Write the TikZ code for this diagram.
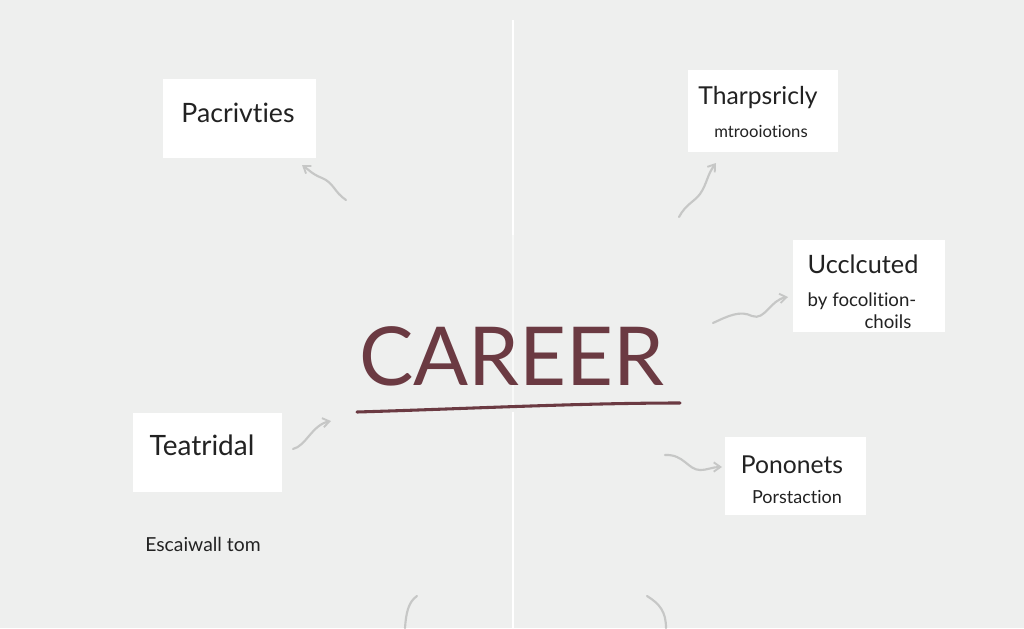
\documentclass[tikz,border=0pt]{standalone}
\usepackage{fontspec}
\setmainfont{Lato}[Ligatures=NoCommon]
\usetikzlibrary{arrows.meta}
\definecolor{bg}{HTML}{EEEFEE}
\definecolor{ink}{HTML}{222222}
\definecolor{maroon}{HTML}{6B3A42}
\definecolor{arrowgray}{HTML}{C6C7C6}
\tikzset{
  card/.style={fill=white, draw=none, inner sep=0pt},
  label/.style={text=ink, inner sep=0pt, anchor=center},
  wavy/.style={draw=arrowgray, line width=1.6pt, line cap=round, -{Straight Barb[length=5pt,width=7pt,line width=1.4pt]}},
  stroke/.style={draw=arrowgray, line width=1.6pt, line cap=round},
}
\begin{document}
\begin{tikzpicture}[x=0.75pt,y=-0.75pt]
\useasboundingbox (0,0) rectangle (1024,628);
\fill[bg] (0,0) rectangle (1024,628);
% vertical divider
\draw[white, line width=2pt] (513,20) -- (513,235);
\draw[white!60!bg, line width=1.5pt] (513,235) -- (513,405);
\draw[white, line width=2pt] (513,412) -- (513,628);

% cards
\node[card, minimum width=153*0.75pt, minimum height=79*0.75pt] (b1) at (239.5,118.5) {};
\node[label, font=\fontsize{20}{24}\selectfont] (t1) at (238,113) {Pacrivties};

\node[card, minimum width=150*0.75pt, minimum height=82*0.75pt] (b2) at (763,111) {};
\node[label, font=\fontsize{18.5}{22}\selectfont] (t2) at (758,98) {Tharpsricly};
\node[label, font=\fontsize{12.5}{15}\selectfont] (t2b) at (761,131) {mtrooiotions};

\node[card, minimum width=152*0.75pt, minimum height=92*0.75pt] (b3) at (869,286) {};
\node[label, font=\fontsize{19}{23}\selectfont] (t3) at (863,264) {Ucclcuted};
\node[label, font=\fontsize{14}{17}\selectfont] (t3b) at (862,301) {by focolition-};
\node[label, font=\fontsize{14}{17}\selectfont] (t3c) at (888,322) {choils};

\node[card, minimum width=149*0.75pt, minimum height=79*0.75pt] (b4) at (207.5,452.5) {};
\node[label, font=\fontsize{21}{25}\selectfont] (t4) at (202,445) {Teatridal};

\node[card, minimum width=141*0.75pt, minimum height=78*0.75pt] (b5) at (795.5,476) {};
\node[label, font=\fontsize{18.5}{22}\selectfont] (t5) at (792,465) {Pononets};
\node[label, font=\fontsize{13.5}{16}\selectfont] (t5b) at (797,497) {Porstaction};

\node[label, font=\fontsize{14.5}{17}\selectfont] (t6) at (203,544) {Escaiwall tom};

% central title
\node[label, text=maroon, font=\fontsize{61}{66}\selectfont] (title) at (512,356) {CAREER};
\coordinate (ul1) at (357,412);
\coordinate (ul2) at (680,403);
\draw[maroon, line width=2.3pt, line cap=round] (ul1) .. controls (460,409) and (580,403) .. (ul2);

% arrows
\coordinate (a1s) at (346,200); \coordinate (a1e) at (302,165);
\draw[wavy] (a1s) .. controls (334,192) and (334,183) .. (322,178) .. controls (312,174) and (309,170) .. (a1e);
\coordinate (a2s) at (679,217); \coordinate (a2e) at (716,163);
\draw[wavy] (a2s) .. controls (686,204) and (694,202) .. (700,194) .. controls (707,184) and (707,175) .. (a2e);
\coordinate (a3s) at (713,323); \coordinate (a3e) at (788,297);
\draw[wavy] (a3s) .. controls (728,316) and (740,310) .. (752,316) .. controls (765,321) and (770,300) .. (a3e);
\coordinate (a4s) at (293,449); \coordinate (a4e) at (331,421);
\draw[wavy] (a4s) .. controls (306,446) and (312,425) .. (a4e);
\coordinate (a5s) at (665,455); \coordinate (a5e) at (722,467);
\draw[wavy] (a5s) .. controls (684,454) and (688,470) .. (700,470) .. controls (708,470) and (712,467) .. (a5e);

% bottom strokes
\coordinate (c1s) at (417,596); \coordinate (c1e) at (405,628);
\draw[stroke] (c1s) .. controls (408,602) and (406,614) .. (c1e);
\coordinate (c2s) at (647,596); \coordinate (c2e) at (666,628);
\draw[stroke] (c2s) .. controls (660,604) and (666,612) .. (c2e);
\end{tikzpicture}
\end{document}
